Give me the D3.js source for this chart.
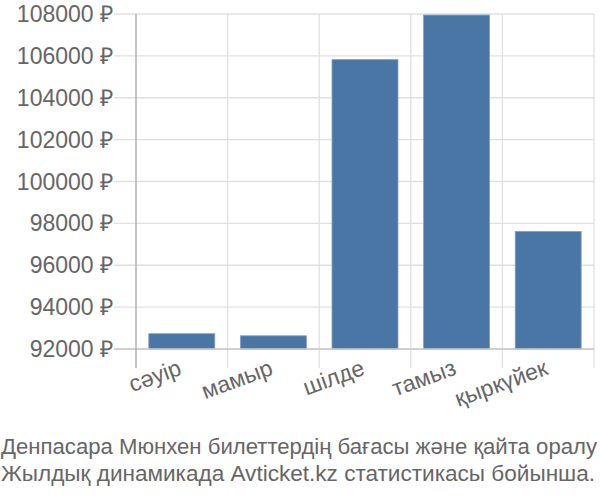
<!DOCTYPE html>
<html>
<head>
<meta charset="utf-8">
<script src="https://cdn.jsdelivr.net/npm/d3@7"></script>
<style>
  body { margin: 0; background: #fff; }
  svg { display: block; font-family: "Liberation Sans", Arial, sans-serif; }
</style>
</head>
<body>
<svg id="chart" width="600" height="500"></svg>
<script>
const months = ['сәуір', 'мамыр', 'шілде', 'тамыз', 'қыркүйек']
const prices = [92730, 92630, 105820, 107950, 97610]
const yTicks = [92000, 94000, 96000, 98000, 100000, 102000, 104000, 106000, 108000]
const titleLines = ['Денпасара Мюнхен билеттердің бағасы және қайта оралу',
                    'Жылдық динамикада Avticket.kz статистикасы бойынша.']

const svg = d3.select('#chart')
const plotLeft = 136, plotRight = 594, plotTop = 14, plotBottom = 349, axisEnd = 368

//scales
const xScale = d3.scaleBand()
                 .domain(months)
                 .range([plotLeft, plotRight])
                 .paddingInner(0.28)
                 .paddingOuter(0.14)

const yScale = d3.scaleLinear()
                 .domain([92000, 108000])
                 .range([plotBottom, plotTop])

//horizontal grid
svg.append('g')
   .selectAll('line')
   .data(yTicks)
   .join('line')
   .attr('x1', plotLeft - 22)
   .attr('x2', plotRight)
   .attr('y1', d => yScale(d))
   .attr('y2', d => yScale(d))
   .style('stroke', '#e0e0e0')
   .style('stroke-width', 1.3)

//vertical grid at band edges
const step = xScale.step()
const bounds = months.map(m => xScale(m) + xScale.bandwidth() + step * 0.14)
svg.append('g')
   .selectAll('line')
   .data(bounds)
   .join('line')
   .attr('x1', d => d)
   .attr('x2', d => d)
   .attr('y1', plotTop)
   .attr('y2', axisEnd)
   .style('stroke', '#e0e0e0')
   .style('stroke-width', 1.3)

//bars
svg.append('g')
   .selectAll('rect')
   .data(prices)
   .join('rect')
   .attr('x', (d, i) => xScale(months[i]))
   .attr('y', d => yScale(d))
   .attr('width', xScale.bandwidth())
   .attr('height', d => plotBottom - yScale(d))
   .style('fill', '#4a76a6')
   .style('stroke', '#7d9ec4')
   .style('stroke-width', 0.8)

//baseline and y axis line
svg.append('line')
   .attr('x1', plotLeft - 22).attr('x2', plotRight)
   .attr('y1', plotBottom).attr('y2', plotBottom)
   .style('stroke', '#c8c8c8').style('stroke-width', 1.3)
svg.append('line')
   .attr('x1', plotLeft).attr('x2', plotLeft)
   .attr('y1', plotTop).attr('y2', axisEnd)
   .style('stroke', '#b0b0b0').style('stroke-width', 1.5)

//y labels
svg.append('g')
   .selectAll('text')
   .data(yTicks)
   .join('text')
   .attr('x', plotLeft - 23)
   .attr('y', d => yScale(d))
   .attr('dy', '0.35em')
   .attr('text-anchor', 'end')
   .style('font-size', '23px')
   .style('fill', '#666')
   .text(d => d + ' ₽')

//x labels
svg.append('g')
   .selectAll('text')
   .data(months)
   .join('text')
   .attr('transform', d => `translate(${xScale(d) + xScale.bandwidth() / 2 + 1}, ${axisEnd + 6}) rotate(-20)`)
   .attr('text-anchor', 'end')
   .style('font-size', '23px')
   .style('fill', '#666')
   .text(d => d)

//caption
svg.append('g')
   .selectAll('text')
   .data(titleLines)
   .join('text')
   .attr('x', 1)
   .attr('y', (d, i) => 454 + i * 27)
   .attr('textLength', (d, i) => i === 0 ? 596 : 594)
   .attr('lengthAdjust', 'spacingAndGlyphs')
   .style('font-size', '21.8px')
   .style('fill', '#666')
   .text(d => d)
</script>
</body>
</html>
